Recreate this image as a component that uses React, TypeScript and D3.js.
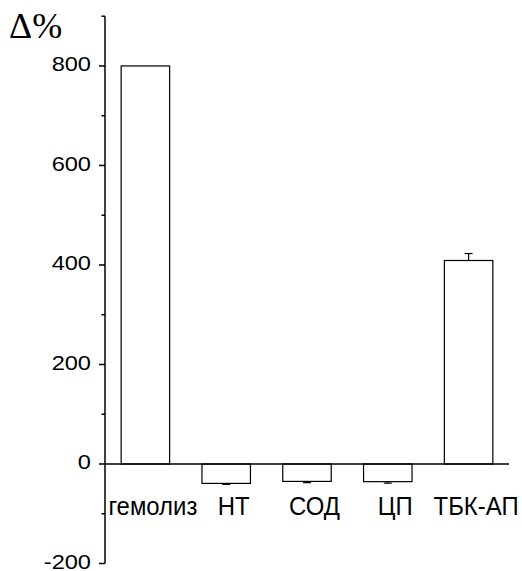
import React from "react";
import * as d3 from "d3";

const categories = ["гемолиз", "НТ", "СОД", "ЦП", "ТБК-АП"];
const values = [800, -39, -35, -35.5, 409];
const errors = [0, 2, 2.5, 3, 14];
const majorTicks = [-200, 0, 200, 400, 600, 800];
const minorTicks = [-100, 100, 300, 500, 700, 900];

export default function App() {
  const W = 522, H = 571;
  const axisX = 105;
  const y = d3.scaleLinear().domain([-200, 900]).range([563.5, 16.2]);
  const x = d3.scaleBand<string>().domain(categories).range([axisX, 509]).paddingInner(0.4).paddingOuter(0.2);
  const bw = x.bandwidth();
  const font = "Liberation Sans, Arial, sans-serif";
  return (
    <svg width={W} height={H} style={{ position: "absolute", left: 0, top: 0, background: "#fff" }}>
      <text x={9} y={38} fontFamily="Liberation Serif, Times New Roman, serif" fontSize={36}>Δ%</text>
      {categories.map((c, i) => {
        const v = values[i];
        const x0 = x(c)!;
        const top = y(Math.max(0, v));
        const bot = y(Math.min(0, v));
        const cx = x0 + bw / 2;
        const e = errors[i];
        const eEnd = v >= 0 ? y(v + e) : y(v - e);
        const eStart = v >= 0 ? top : bot;
        return (
          <g key={c}>
            <rect x={x0} y={top} width={bw} height={bot - top} fill="#fff" stroke="#000" strokeWidth={1.2} />
            {e > 0 && (
              <g stroke="#000" strokeWidth={1.2}>
                <line x1={cx} x2={cx} y1={eStart} y2={eEnd} />
                <line x1={cx - 4} x2={cx + 4} y1={eEnd} y2={eEnd} />
              </g>
            )}
            <text transform={`translate(${cx + 7.5},515) scale(0.92,1)`} textAnchor="middle" fontFamily={font} fontSize={26}>{c}</text>
          </g>
        );
      })}
      <line x1={axisX} x2={509} y1={y(0)} y2={y(0)} stroke="#000" strokeWidth={1.5} />
      <line x1={axisX} x2={axisX} y1={y(900)} y2={y(-200)} stroke="#000" strokeWidth={1.5} />
      {majorTicks.map((t) => (
        <g key={t}>
          <line x1={axisX - 6} x2={axisX} y1={y(t)} y2={y(t)} stroke="#000" strokeWidth={1.5} />
          <text transform={`translate(91,${y(t) + 5.2}) scale(1.18,1)`} textAnchor="end" fontFamily={font} fontSize={20}>{t}</text>
        </g>
      ))}
      {minorTicks.map((t) => (
        <line key={t} x1={axisX - 3.5} x2={axisX} y1={y(t)} y2={y(t)} stroke="#000" strokeWidth={1.5} />
      ))}
    </svg>
  );
}
